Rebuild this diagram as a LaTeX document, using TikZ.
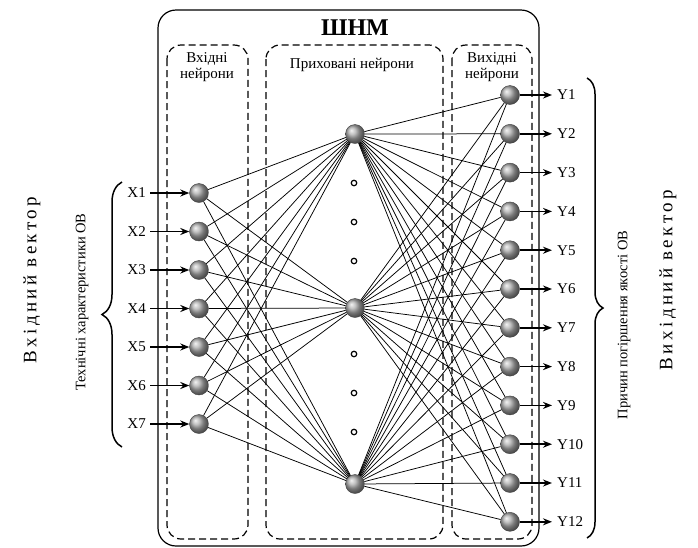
\documentclass[tikz,border=0pt]{standalone}
\usepackage{fontspec}
\setmainfont{Liberation Serif}
\newfontfamily\spacedfont[LetterSpace=18]{Liberation Serif}
\usetikzlibrary{arrows.meta,decorations.pathreplacing,shadings}
\begin{document}
\begin{tikzpicture}[x=1pt,y=-1pt,
  neuron/.style={circle,minimum size=19pt,inner sep=0pt,ball color=gray!65,draw=black!75,line width=0.4pt},
  conn/.style={line width=0.75pt,black},
  ioarrow/.style={line width=1.5pt,-{Stealth[length=9pt,width=7pt]}},
  dashbox/.style={draw,line width=1.2pt,dash pattern=on 7pt off 4pt,rounded corners=14pt},
  outerbox/.style={draw,line width=1.2pt,rounded corners=18pt},
  dotc/.style={circle,draw,line width=1.2pt,fill=white,minimum size=5.5pt,inner sep=0pt},
  lbl/.style={font=\fontsize{15}{17}\selectfont,inner sep=0pt},
  hdr/.style={font=\fontsize{15}{16}\selectfont,align=center,inner sep=0pt},
  brc/.style={decorate,line width=1.5pt}
]
\useasboundingbox (0,0) rectangle (698,547);
% boxes
\draw[outerbox] (158,10) rectangle (539,546);
\draw[dashbox] (167,45) rectangle (248,539);
\draw[dashbox] (266,45) rectangle (443,539);
\draw[dashbox] (452,45) rectangle (532,539);
% headers
\node[font=\bfseries\fontsize{24}{26}\selectfont] (title) at (355,28) {ШНМ};
\node[hdr] (hin) at (207,67) {Вхідні\\нейрони};
\node[hdr] (hhid) at (352,65) {Приховані нейрони};
\node[hdr] (hout) at (492,67) {Вихідні\\нейрони};
% input neurons
\foreach \i in {1,...,7}{
  \node[neuron] (x\i) at (199,{193+38.5*(\i-1)}) {};
}
% hidden neurons
\node[neuron] (h1) at (355,134) {};
\node[neuron] (h2) at (355,308) {};
\node[neuron] (h3) at (355,484) {};
% output neurons
\foreach \j in {1,...,12}{
  \node[neuron] (y\j) at (510,{95+38.8*(\j-1)}) {};
}
% dots
\foreach \k/\yy in {1/183,2/222,3/261,4/354,5/393,6/432}{
  \node[dotc] (d\k) at (354,\yy) {};
}
% connections
\foreach \i in {1,...,7}{
  \foreach \h in {1,2,3}{
    \draw[conn] (x\i) -- (h\h);
  }
}
\foreach \h in {1,2,3}{
  \foreach \j in {1,...,12}{
    \draw[conn] (h\h) -- (y\j);
  }
}
% input arrows and labels
\foreach \i in {1,...,7}{
  \coordinate (xs\i) at (150,{193+38.5*(\i-1)});
  \draw[ioarrow] (xs\i) -- (x\i);
  \node[lbl,anchor=east] (xl\i) at (146,{193+38.5*(\i-1)}) {X\i};
}
% output arrows and labels
\foreach \j in {1,...,12}{
  \coordinate (ye\j) at (552,{95+38.8*(\j-1)});
  \draw[ioarrow] (y\j) -- (ye\j);
  \node[lbl,anchor=west] (yl\j) at (557,{95+38.8*(\j-1)}) {Y\j};
}
% braces
\coordinate (lb1) at (122,447);
\coordinate (lb2) at (122,182);
\draw[brc,decoration={brace,amplitude=20pt}] (lb1) -- (lb2);
\coordinate (rb1) at (587,78);
\coordinate (rb2) at (587,538);
\draw[brc,decoration={brace,amplitude=16pt}] (rb1) -- (rb2);
% side texts
\node[rotate=90,font=\spacedfont\fontsize{19}{21}\selectfont] (invec) at (32,280) {Вхідний вектор};
\node[rotate=90,font=\fontsize{14.5}{16}\selectfont] (inchar) at (82,302) {Технічні характеристики ОВ};
\node[rotate=90,font=\fontsize{14.5}{16}\selectfont] (outcause) at (624,325) {Причин погіршення якості ОВ};
\node[rotate=90,font=\spacedfont\fontsize{19}{21}\selectfont] (outvec) at (668,280) {Вихідний вектор};
\end{tikzpicture}
\end{document}
